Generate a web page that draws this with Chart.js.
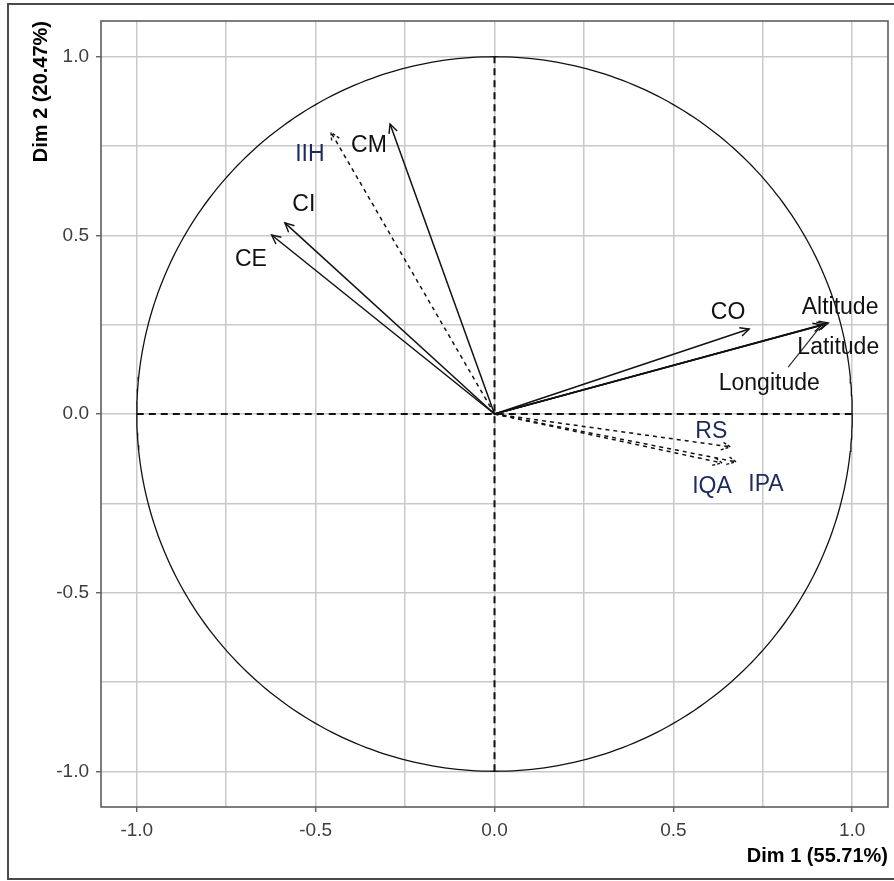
<!DOCTYPE html>
<html>
<head>
<meta charset="utf-8">
<script src="https://cdn.jsdelivr.net/npm/chart.js@4.4.1/dist/chart.umd.min.js"></script>
<style>
  html, body { margin: 0; padding: 0; background: #ffffff; }
  canvas { display: block; }
</style>
</head>
<body>
<canvas id="pca" width="894" height="881"></canvas>
<script>
// Active variables: coordinates on the first two dimensions
const activeVars = ['CE', 'CI', 'CM', 'CO', 'Altitude', 'Latitude', 'Longitude'];
const activeDim1 = [-0.623, -0.586, -0.292, 0.712, 0.933, 0.927, 0.916];
const activeDim2 = [0.501, 0.535, 0.812, 0.238, 0.255, 0.252, 0.249];

// Supplementary variables (dashed arrows)
const supVars = ['IIH', 'RS', 'IQA', 'IPA'];
const supDim1 = [-0.457, 0.659, 0.636, 0.675];
const supDim2 = [0.788, -0.092, -0.137, -0.134];

// Axis ticks and grid
const tickLabels = [-1.0, -0.5, 0.0, 0.5, 1.0];
const gridValues = [-1, -0.75, -0.5, -0.25, 0, 0.25, 0.5, 0.75, 1];
const axisTitleX = 'Dim 1 (55.71%)';
const axisTitleY = 'Dim 2 (20.47%)';

// Where each variable name sits, pushed away from the arrow tips
const labelPlacement = {
  CE: [-0.681, 0.431],
  CI: [-0.533, 0.585],
  CM: [-0.351, 0.750],
  CO: [0.653, 0.285],
  Altitude: [0.966, 0.299],
  Latitude: [0.961, 0.185],
  Longitude: [0.768, 0.084],
  IIH: [-0.516, 0.725],
  RS: [0.606, -0.050],
  IQA: [0.608, -0.204],
  IPA: [0.759, -0.199]
};
// Leader line joining the Longitude name to its arrow
const leaderFrom = { Longitude: [0.821, 0.131] };

const FONT = '"Liberation Sans", Arial, Helvetica, sans-serif';
const SUP_TEXT = '#1d2b5c';

// Unit circle of correlations
const circle = [];
for (let i = 0; i <= 360; i++) {
  const a = i * Math.PI / 180;
  circle.push({ x: Math.cos(a), y: Math.sin(a) });
}

const datasets = [
  { id: 'circle', data: circle, borderColor: '#111', borderWidth: 1.3 },
  { id: 'hzero', data: [{ x: -1, y: 0 }, { x: 1, y: 0 }], borderColor: '#111', borderWidth: 2, borderDash: [7, 5] },
  { id: 'vzero', data: [{ x: 0, y: -1 }, { x: 0, y: 1 }], borderColor: '#111', borderWidth: 2, borderDash: [7, 5] }
];
activeVars.forEach((name, i) => {
  datasets.push({
    id: 'arrow', name, dashed: false,
    data: [{ x: 0, y: 0 }, { x: activeDim1[i], y: activeDim2[i] }],
    borderColor: '#111', borderWidth: 1.5
  });
});
supVars.forEach((name, i) => {
  datasets.push({
    id: 'arrow', name, dashed: true, sup: true,
    data: [{ x: 0, y: 0 }, { x: supDim1[i], y: supDim2[i] }],
    borderColor: '#111', borderWidth: 1.5, borderDash: [4, 4]
  });
});
datasets.forEach(d => {
  d.showLine = true;
  d.pointRadius = 0;
  d.pointHoverRadius = 0;
  d.tension = 0;
  d.fill = false;
});

const decorations = {
  id: 'decorations',
  afterDatasetsDraw(chart) {
    const { ctx, chartArea: ca, scales: { x, y } } = chart;
    ctx.save();

    // arrowheads
    chart.data.datasets.forEach((ds, di) => {
      if (ds.id !== 'arrow') return;
      const pts = chart.getDatasetMeta(di).data;
      const p0 = pts[0], p1 = pts[1];
      const ang = Math.atan2(p1.y - p0.y, p1.x - p0.x);
      const len = 10, spread = 0.45;
      ctx.beginPath();
      ctx.setLineDash(ds.dashed ? [3, 2] : []);
      ctx.strokeStyle = '#111';
      ctx.lineWidth = 1.4;
      ctx.moveTo(p1.x - len * Math.cos(ang - spread), p1.y - len * Math.sin(ang - spread));
      ctx.lineTo(p1.x, p1.y);
      ctx.lineTo(p1.x - len * Math.cos(ang + spread), p1.y - len * Math.sin(ang + spread));
      ctx.stroke();
    });
    ctx.setLineDash([]);

    // leader segments
    chart.data.datasets.forEach(ds => {
      if (ds.id !== 'arrow' || !leaderFrom[ds.name]) return;
      const from = leaderFrom[ds.name];
      const tip = ds.data[1];
      ctx.beginPath();
      ctx.strokeStyle = '#222';
      ctx.lineWidth = 1.1;
      ctx.moveTo(x.getPixelForValue(from[0]), y.getPixelForValue(from[1]));
      ctx.lineTo(x.getPixelForValue(tip.x) - 3, y.getPixelForValue(tip.y) + 3);
      ctx.stroke();
    });

    // variable names
    ctx.font = '23px ' + FONT;
    ctx.textAlign = 'center';
    ctx.textBaseline = 'middle';
    chart.data.datasets.forEach(ds => {
      if (ds.id !== 'arrow') return;
      const pos = labelPlacement[ds.name];
      ctx.fillStyle = ds.sup ? SUP_TEXT : '#111';
      ctx.fillText(ds.name, x.getPixelForValue(pos[0]), y.getPixelForValue(pos[1]));
    });

    // panel border
    ctx.strokeStyle = '#5e5e5e';
    ctx.lineWidth = 1.6;
    ctx.strokeRect(ca.left, ca.top, ca.right - ca.left, ca.bottom - ca.top);
    ctx.restore();
  },
  afterDraw(chart) {
    const { ctx } = chart;
    ctx.save();
    ctx.strokeStyle = '#4a4a4a';
    ctx.lineWidth = 2;
    ctx.strokeRect(8, 4, 900, 875);
    ctx.restore();
  }
};

const isMajor = v => tickLabels.some(t => Math.abs(t - v) < 1e-9);

function axisOptions(titleText, titlePadding, fixedSize, isX) {
  return {
    type: 'linear',
    min: -1.1,
    max: 1.1,
    afterBuildTicks: s => { s.ticks = gridValues.map(v => ({ value: v })); },
    afterFit: s => { if (isX) s.height = fixedSize; else s.width = fixedSize; },
    ticks: {
      autoSkip: false,
      maxRotation: 0,
      padding: 7,
      color: '#3d3d3d',
      font: { family: FONT, size: 19 },
      callback: v => isMajor(v) ? v.toFixed(1) : ''
    },
    grid: {
      color: '#c9c9c9',
      lineWidth: 1.5,
      drawTicks: true,
      tickLength: 5,
      tickWidth: 1.3,
      tickColor: c => (c.tick && isMajor(c.tick.value)) ? '#555' : 'rgba(0,0,0,0)'
    },
    border: { display: false },
    title: {
      display: true,
      text: titleText,
      align: 'end',
      color: '#000',
      font: { family: FONT, size: 20, weight: 'bold' },
      padding: titlePadding
    }
  };
}

new Chart(document.getElementById('pca'), {
  type: 'scatter',
  data: { datasets },
  options: {
    responsive: false,
    animation: false,
    devicePixelRatio: 1,
    layout: { padding: { top: 21, right: 6, bottom: 0, left: 0 } },
    plugins: { legend: { display: false }, tooltip: { enabled: false } },
    scales: {
      x: axisOptions(axisTitleX, { top: 0, bottom: 13 }, 74, true),
      y: axisOptions(axisTitleY, { top: 29, bottom: 0 }, 101, false)
    }
  },
  plugins: [decorations]
});
</script>
</body>
</html>
